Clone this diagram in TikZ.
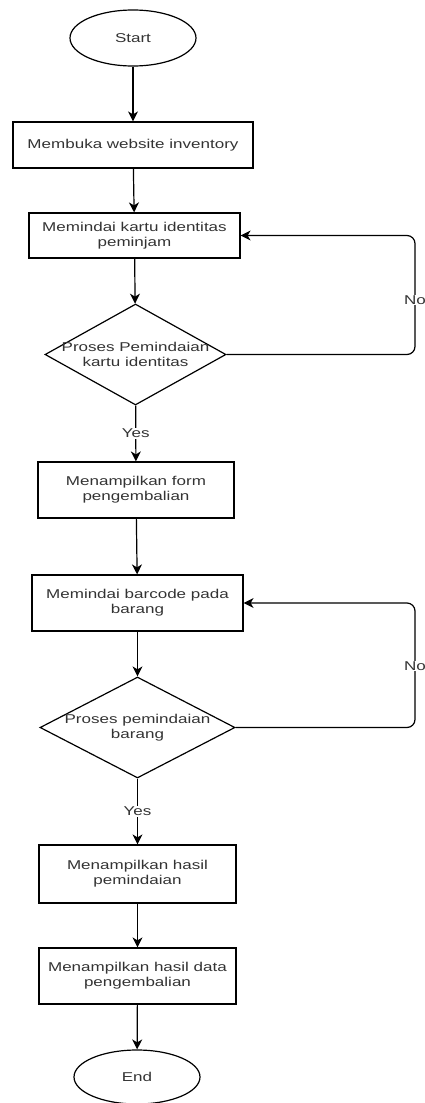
\documentclass[tikz,border=0pt]{standalone}
\usepackage{fontspec}
\setmainfont[FakeStretch=1.33]{Liberation Sans}
\usetikzlibrary{shapes.geometric,arrows.meta}
\definecolor{txtgray}{HTML}{333333}
\begin{document}
\begin{tikzpicture}[x=1pt,y=-1pt,
  every node/.style={font=\fontsize{12.8}{15}\selectfont, text=txtgray},
  conn/.style={draw=black, line width=1.2pt},
  arr/.style={conn, -{Stealth[length=10pt,width=10pt,inset=3pt]}},
  procbox/.style={draw=black, line width=1.2pt, rectangle, align=center, inner sep=0pt},
  term/.style={draw=black, line width=1.2pt, ellipse, inner sep=0pt, minimum width=126pt, minimum height=56pt},
  decision/.style={draw=black, line width=1.2pt, diamond, inner sep=0pt},
  dtext/.style={align=center, inner sep=0pt},
  lbl/.style={fill=white, inner sep=1pt}]
\useasboundingbox (0,0) rectangle (424,1103);

\node[term] (start) at (133,38) {Start};
\node[procbox, minimum width=240pt, minimum height=46pt] (b1) at (133,145) {Membuka website inventory};
\node[procbox, minimum width=211pt, minimum height=45pt] (b2) at (134.5,235.5) {Memindai kartu identitas\\peminjam};
\node[decision, minimum width=181pt, minimum height=101pt] (d1) at (135.5,354.5) {};
\node[dtext] (d1t) at (d1) {Proses Pemindaian\\kartu identitas};
\node[procbox, minimum width=196pt, minimum height=56pt] (b3) at (136,490) {Menampilkan form\\pengembalian};
\node[procbox, minimum width=211pt, minimum height=56pt] (b4) at (137.5,603) {Memindai barcode pada\\barang};
\node[decision, minimum width=195pt, minimum height=101pt] (d2) at (137.5,727.5) {};
\node[dtext] (d2t) at (d2) {Proses pemindaian\\barang};
\node[procbox, minimum width=197pt, minimum height=58pt] (b5) at (137.5,874) {Menampilkan hasil\\pemindaian};
\node[procbox, minimum width=197pt, minimum height=56pt] (b6) at (137.5,976) {Menampilkan hasil data\\pengembalian};
\node[term, minimum height=54pt] (end) at (137,1077) {End};

\draw[arr] (start) -- (b1);
\draw[arr] (b1) -- (b2);
\draw[arr] (b2) -- (d1);
\draw[arr] (d1) -- node[lbl] (y1) {Yes} (b3);
\draw[arr] (b3) -- (b4);
\draw[arr] (b4) -- (d2);
\draw[arr] (d2) -- node[lbl] (y2) {Yes} (b5);
\draw[arr] (b5) -- (b6);
\draw[arr] (b6) -- (end);

\coordinate (r1) at (415,300);
\coordinate (r2) at (415,666);
\draw[arr, rounded corners=8pt] (d1.east) -- (d1.east -| r1) -- (b2.east -| r1) -- (b2.east);
\draw[arr, rounded corners=8pt] (d2.east) -- (d2.east -| r2) -- (b4.east -| r2) -- (b4.east);
\node[lbl] (n1) at (r1) {No};
\node[lbl] (n2) at (r2) {No};
\end{tikzpicture}
\end{document}
